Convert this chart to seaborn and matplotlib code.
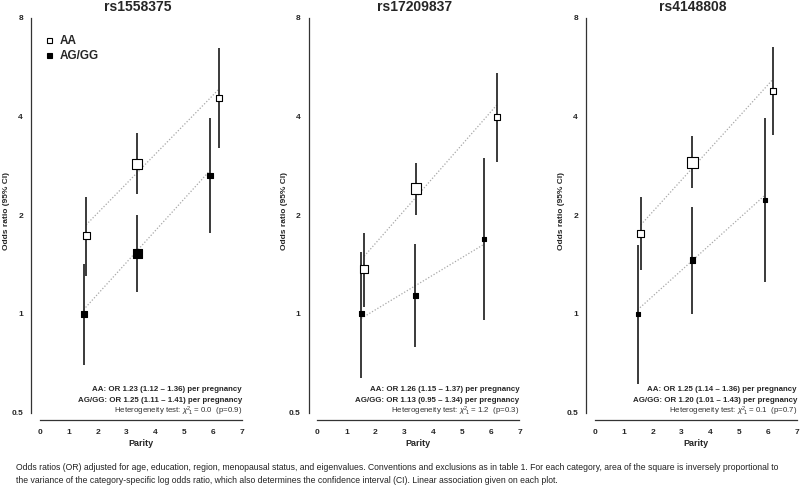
import numpy as np
import pandas as pd
import matplotlib
matplotlib.use("Agg")
import matplotlib.pyplot as plt
import matplotlib.transforms as mtransforms
import seaborn as sns
from matplotlib.lines import Line2D

# ---------------- data ----------------
snps = ["rs1558375", "rs17209837", "rs4148808"]
groups = ["AA", "AG/GG"]

# mean parity of each category (x), odds ratio, lower CI, upper CI, square size (relative weight)
aa_x = [[1.60, 3.38, 6.20], [1.62, 3.41, 6.24], [1.59, 3.38, 6.17]]
aa_or = [[1.74, 2.86, 4.55], [1.37, 2.41, 3.98], [1.76, 2.90, 4.79]]
aa_lo = [[1.31, 2.32, 3.20], [1.05, 2.00, 2.91], [1.36, 2.42, 3.51]]
aa_hi = [[2.28, 3.56, 6.46], [1.77, 2.88, 5.42], [2.28, 3.48, 6.53]]
aa_w = [[7.0, 10.0, 6.0], [7.5, 10.5, 6.0], [7.3, 10.5, 6.0]]

ag_x = [[1.51, 3.38, 5.90], [1.52, 3.39, 5.76], [1.48, 3.38, 5.90]]
ag_or = [[1.00, 1.53, 2.64], [1.00, 1.14, 1.69], [1.00, 1.46, 2.23]]
ag_lo = [[0.70, 1.17, 1.76], [0.64, 0.795, 0.96], [0.61, 1.00, 1.25]]
ag_hi = [[1.42, 2.00, 3.95], [1.55, 1.64, 2.98], [1.62, 2.12, 3.95]]
ag_w = [[6.0, 8.5, 5.5], [5.0, 5.5, 4.0], [4.0, 5.5, 4.0]]

# linear trend: fitted value at first category and OR per pregnancy
aa_fit0 = [1.87, 1.50, 1.87]
ag_fit0 = [1.03, 0.97, 1.03]
aa_trend = [1.23, 1.26, 1.25]
ag_trend = [1.25, 1.13, 1.20]

aa_text = ["AA: OR 1.23 (1.12 \u2013 1.36) per pregnancy",
           "AA: OR 1.26 (1.15 \u2013 1.37) per pregnancy",
           "AA: OR 1.25 (1.14 \u2013 1.36) per pregnancy"]
ag_text = ["AG/GG: OR 1.25 (1.11 \u2013 1.41) per pregnancy",
           "AG/GG: OR 1.13 (0.95 \u2013 1.34) per pregnancy",
           "AG/GG: OR 1.20 (1.01 \u2013 1.43) per pregnancy"]
het_chi = ["0.0", "1.2", "0.1"]
het_p = ["0.9", "0.3", "0.7"]

y_ticks = [0.5, 1, 2, 4, 8]
y_ticklabels = ["0.5", "1", "2", "4", "8"]
x_ticks = [0, 1, 2, 3, 4, 5, 6, 7]

caption = ("Odds ratios (OR) adjusted for age, education, region, menopausal status, and eigenvalues. "
           "Conventions and exclusions as in table 1. For each category, area of the square is inversely proportional to\n"
           "the variance of the category-specific log odds ratio, which also determines the confidence interval (CI). "
           "Linear association given on each plot.")

# ---------------- style ----------------
sns.set_style("white")
plt.rcParams["font.family"] = ["Liberation Sans", "DejaVu Sans"]
plt.rcParams["mathtext.fontset"] = "custom"
plt.rcParams["mathtext.rm"] = "Liberation Sans"
plt.rcParams["mathtext.it"] = "Liberation Sans:italic"

W, H = 800, 498
fig = plt.figure(figsize=(W / 100, H / 100), dpi=100)

px2pt = 0.72
lefts = [31, 308.5, 586]
ax_w, ax_top, ax_bot = 219, 2, 420
ax_h = ax_bot - ax_top
xlim = (-0.31, 7.28)
ylim = (0.475, 8.94)

ci_color = "#2b2b2b"
trend_color = "#a8a8a8"

for i, snp in enumerate(snps):
    ax = fig.add_axes([lefts[i] / W, (H - ax_bot) / H, ax_w / W, ax_h / H])
    ax.set_yscale("log", base=2)
    ax.set_xlim(*xlim)
    ax.set_ylim(*ylim)

    for (xs, ors, los, his, ws, fit0, tr, face) in [
        (aa_x[i], aa_or[i], aa_lo[i], aa_hi[i], aa_w[i], aa_fit0[i], aa_trend[i], "white"),
        (ag_x[i], ag_or[i], ag_lo[i], ag_hi[i], ag_w[i], ag_fit0[i], ag_trend[i], "black"),
    ]:
        # trend line
        tx = np.array([xs[0], xs[-1]])
        ty = fit0 * tr ** (tx - xs[0])
        sns.lineplot(x=tx, y=ty, ax=ax, color=trend_color, lw=0.9, ls=(0, (1, 1.5)),
                     zorder=1, estimator=None, sort=False)
        # confidence intervals
        ax.vlines(xs, los, his, color=ci_color, lw=1.3, zorder=2)
        # squares
        df = pd.DataFrame({"x": xs, "y": ors})
        sns.scatterplot(data=df, x="x", y="y", ax=ax, marker="s",
                        s=[(w * px2pt) ** 2 for w in ws],
                        color=face, edgecolor="black", linewidth=0.8, zorder=3)

    # axes styling
    for side in ["top", "right"]:
        ax.spines[side].set_visible(False)
    ax.spines["left"].set_bounds(0.5, 8)
    ax.spines["bottom"].set_bounds(0, 7)
    for side in ["left", "bottom"]:
        ax.spines[side].set_color("#333333")
        ax.spines[side].set_linewidth(0.9)
    ax.set_yticks(y_ticks)
    ax.set_yticklabels(y_ticklabels)
    ax.yaxis.set_minor_locator(matplotlib.ticker.NullLocator())
    ax.set_xticks(x_ticks)
    ax.set_xticklabels([str(t) for t in x_ticks])
    ax.tick_params(axis="both", which="major", length=3.2, width=0.8, color="#333333",
                   labelsize=6, direction="out")
    ax.tick_params(axis="y", pad=2.5)
    ax.tick_params(axis="x", pad=3.5)
    for lab in ax.get_xticklabels() + ax.get_yticklabels():
        lab.set_fontweight("bold")
    ax.set_xlabel("Parity", fontsize=6.5, fontweight="bold", labelpad=0)
    ax.xaxis.set_label_coords(0.5, -(439 - ax_bot) / ax_h, transform=ax.transAxes)
    ax.set_ylabel("Odds ratio (95% CI)", fontsize=6, fontweight="bold")
    ax.yaxis.set_label_coords(-21 / ax_w, 0.5)
    ax.grid(False)

    # title
    ax.text(0.486, 1 - 5 / ax_h, snp, transform=ax.transAxes,
            ha="center", va="center", fontsize=10, fontweight="bold")

    # annotation text (right aligned at x=7)
    def ypos(py):
        return (ax_bot - py) / ax_h
    blend = mtransforms.blended_transform_factory(ax.transData, ax.transAxes)
    ax.text(7, ypos(389), aa_text[i], transform=blend,
            ha="right", va="center", fontsize=5.7, fontweight="bold")
    ax.text(7, ypos(400), ag_text[i], transform=blend,
            ha="right", va="center", fontsize=5.7, fontweight="bold")
    ax.text(7, ypos(411), r"Heterogeneity test: $\chi^2_{\ 1}$ = " + het_chi[i] + "  (p=" + het_p[i] + ")",
            transform=blend, ha="right", va="center", fontsize=5.7, color="#333333")

    if i == 0:
        handles = [Line2D([], [], ls="none", marker="s", ms=3.6, mfc="white", mec="black", mew=0.8),
                   Line2D([], [], ls="none", marker="s", ms=3.6, mfc="black", mec="black", mew=0.8)]
        ax.legend(handles, groups, loc="upper left",
                  bbox_to_anchor=((43 - 31) / ax_w, 1 - (35 - ax_top) / ax_h),
                  frameon=False, prop={"weight": "bold", "size": 8.5},
                  handlelength=1.0, handletextpad=0.4, borderpad=0, borderaxespad=0,
                  labelspacing=0.25)

fig.text(16 / W, 1 - 474 / H, caption, ha="left", va="center", fontsize=6.2,
         color="#222222", linespacing=1.5)

fig.savefig("out.png", dpi=100)
